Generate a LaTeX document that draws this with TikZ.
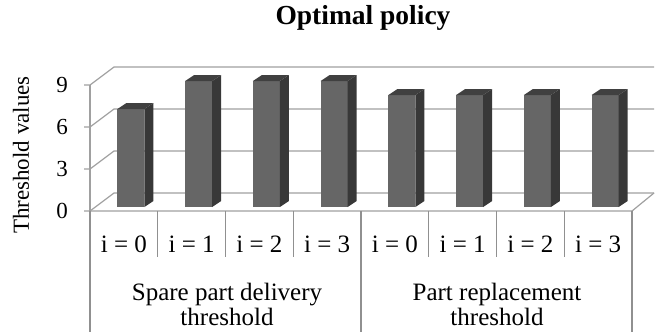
\documentclass[tikz,border=0pt]{standalone}
\usepackage{fontspec}
\setmainfont{Liberation Serif}
\definecolor{barfront}{HTML}{666666}
\definecolor{barside}{HTML}{383838}
\definecolor{bartop}{HTML}{404040}
\definecolor{gridc}{HTML}{A0A0A0}
\definecolor{tablec}{HTML}{909090}
\begin{document}
\begin{tikzpicture}[x=1pt,y=-1pt,
  gridline/.style={draw=gridc,line width=1.2pt},
  tabline/.style={draw=tablec,line width=1.2pt},
  lbl/.style={font=\fontsize{25}{26}\selectfont,inner sep=0pt},
  ticklbl/.style={font=\fontsize{23}{24}\selectfont,inner sep=0pt},
  ylbl/.style={font=\fontsize{23}{24}\selectfont,inner sep=0pt},
  grplbl/.style={font=\fontsize{25}{25}\selectfont,align=center,inner sep=0pt},
  titlelbl/.style={font=\fontsize{27.5}{29}\selectfont\bfseries,inner sep=0pt}]
\useasboundingbox (0,0) rectangle (671,332);
% back wall gridlines and left wall diagonals
\foreach \v/\y in {0/211,3/169,6/127,9/85}{
  \draw[gridline] (84,\y) -- (90,\y) -- (114,\y-18) -- (654,\y-18);
}
% vertical axis
\draw[gridline] (90,85) -- (90,211);
% floor
\draw[gridline] (90,211) -- (632,211) -- (654,193);
% bars
\foreach \i/\v in {0/7,1/9,2/9,3/9,4/8,5/8,6/8,7/8}{
  \pgfmathsetmacro{\xl}{90+67.75*\i+33.9+7-13.5}
  \pgfmathsetmacro{\xr}{\xl+27}
  \pgfmathsetmacro{\yt}{207-14*\v}
  \fill[barfront] (\xl,\yt) rectangle (\xr,207);
  \fill[barside] (\xr,\yt) -- (\xr+9,\yt-6) -- (\xr+9,201) -- (\xr,207) -- cycle;
  \fill[bartop] (\xl,\yt) -- (\xl+9,\yt-6) -- (\xr+9,\yt-6) -- (\xr,\yt) -- cycle;
}
% table lines
\draw[tabline] (90,211) -- (90,332);
\draw[tabline] (361,211) -- (361,332);
\draw[tabline] (632,211) -- (632,332);
\foreach \i in {1,2,3,5,6,7}{
  \draw[tabline] (90+67.75*\i,211) -- (90+67.75*\i,257);
}
% tick labels
\node[ticklbl] (t0) at (62,211) {0};
\node[ticklbl] (t3) at (62,169) {3};
\node[ticklbl] (t6) at (62,127) {6};
\node[ticklbl] (t9) at (62,85) {9};
\node[ylbl,rotate=90] (ytitle) at (21,155) {Threshold values};
% category labels
\foreach \i/\n in {0/0,1/1,2/2,3/3,4/0,5/1,6/2,7/3}{
  \node[lbl] (c\i) at (90+67.75*\i+33.9,244) {i = \n};
}
\node[grplbl] (g1) at (227,304) {Spare part delivery\\threshold};
\node[grplbl] (g2) at (497,304) {Part replacement\\threshold};
\node[titlelbl] (title) at (363,18) {Optimal policy};
\end{tikzpicture}
\end{document}
